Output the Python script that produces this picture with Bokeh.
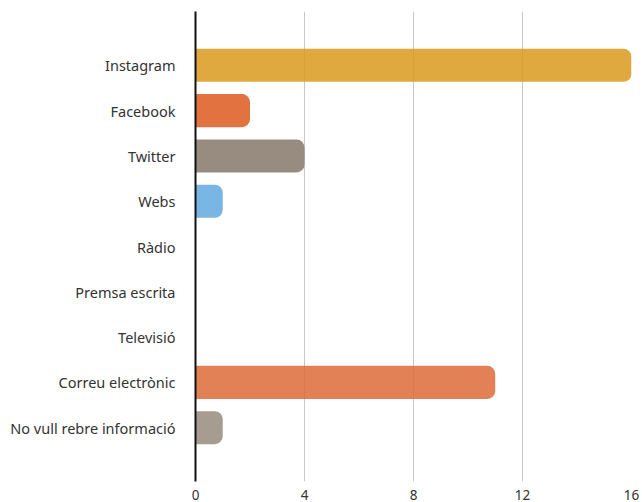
from bokeh.plotting import figure
from bokeh.models import ColumnDataSource, FactorRange, Range1d, FixedTicker
from bokeh.embed import file_html
from bokeh.resources import INLINE

categories = ["Instagram", "Facebook", "Twitter", "Webs", "Ràdio", "Premsa escrita",
              "Televisió", "Correu electrònic", "No vull rebre informació"]
values = [16, 2, 4, 1, 0, 0, 0, 11, 1]
colors = ["#D99A1E", "#DD5A1E", "#857869", "#62A9DF", "#DD5A1E", "#DD5A1E",
          "#DD5A1E", "#DC6B37", "#978B7D"]
x_ticks = [0, 4, 8, 12, 16]

src = ColumnDataSource(dict(cat=[c for c, v in zip(categories, values) if v > 0],
                            val=[v for v in values if v > 0],
                            col=[c for c, v in zip(colors, values) if v > 0]))

yr = FactorRange(factors=list(reversed(categories)), range_padding=0.153,
                 range_padding_units="percent")

p = figure(y_range=yr, x_range=Range1d(0, 16), frame_width=436, frame_height=470,
           min_border_left=195, min_border_top=11, min_border_right=10, min_border_bottom=8,
           output_backend="svg", toolbar_location=None, outline_line_color=None)

p.hbar(y="cat", right="val", left=0, height=0.73, source=src, fill_color="col",
       fill_alpha=0.85, line_color=None, border_radius=(0, 8, 8, 0))

p.xgrid.ticker = FixedTicker(ticks=x_ticks)
p.xgrid.grid_line_color = "#C8C8C8"
p.xgrid.grid_line_width = 1
p.ygrid.grid_line_color = None

p.xaxis.ticker = FixedTicker(ticks=x_ticks)
p.xaxis.axis_line_color = None
p.xaxis.major_tick_line_color = None
p.xaxis.minor_tick_line_color = None
p.xaxis.major_label_standoff = 2
p.xaxis.major_label_text_font = "Noto Sans"
p.xaxis.major_label_text_font_size = "13.5px"
p.xaxis.major_label_text_color = "#333333"

p.yaxis.axis_line_color = "#111111"
p.yaxis.axis_line_width = 2
p.yaxis.major_tick_line_color = None
p.yaxis.minor_tick_line_color = None
p.yaxis.major_label_standoff = 14
p.yaxis.major_label_text_font = "Noto Sans"
p.yaxis.major_label_text_font_size = "14.5px"
p.yaxis.major_label_text_color = "#333333"

open("out.html", "w").write(file_html(p, INLINE))
